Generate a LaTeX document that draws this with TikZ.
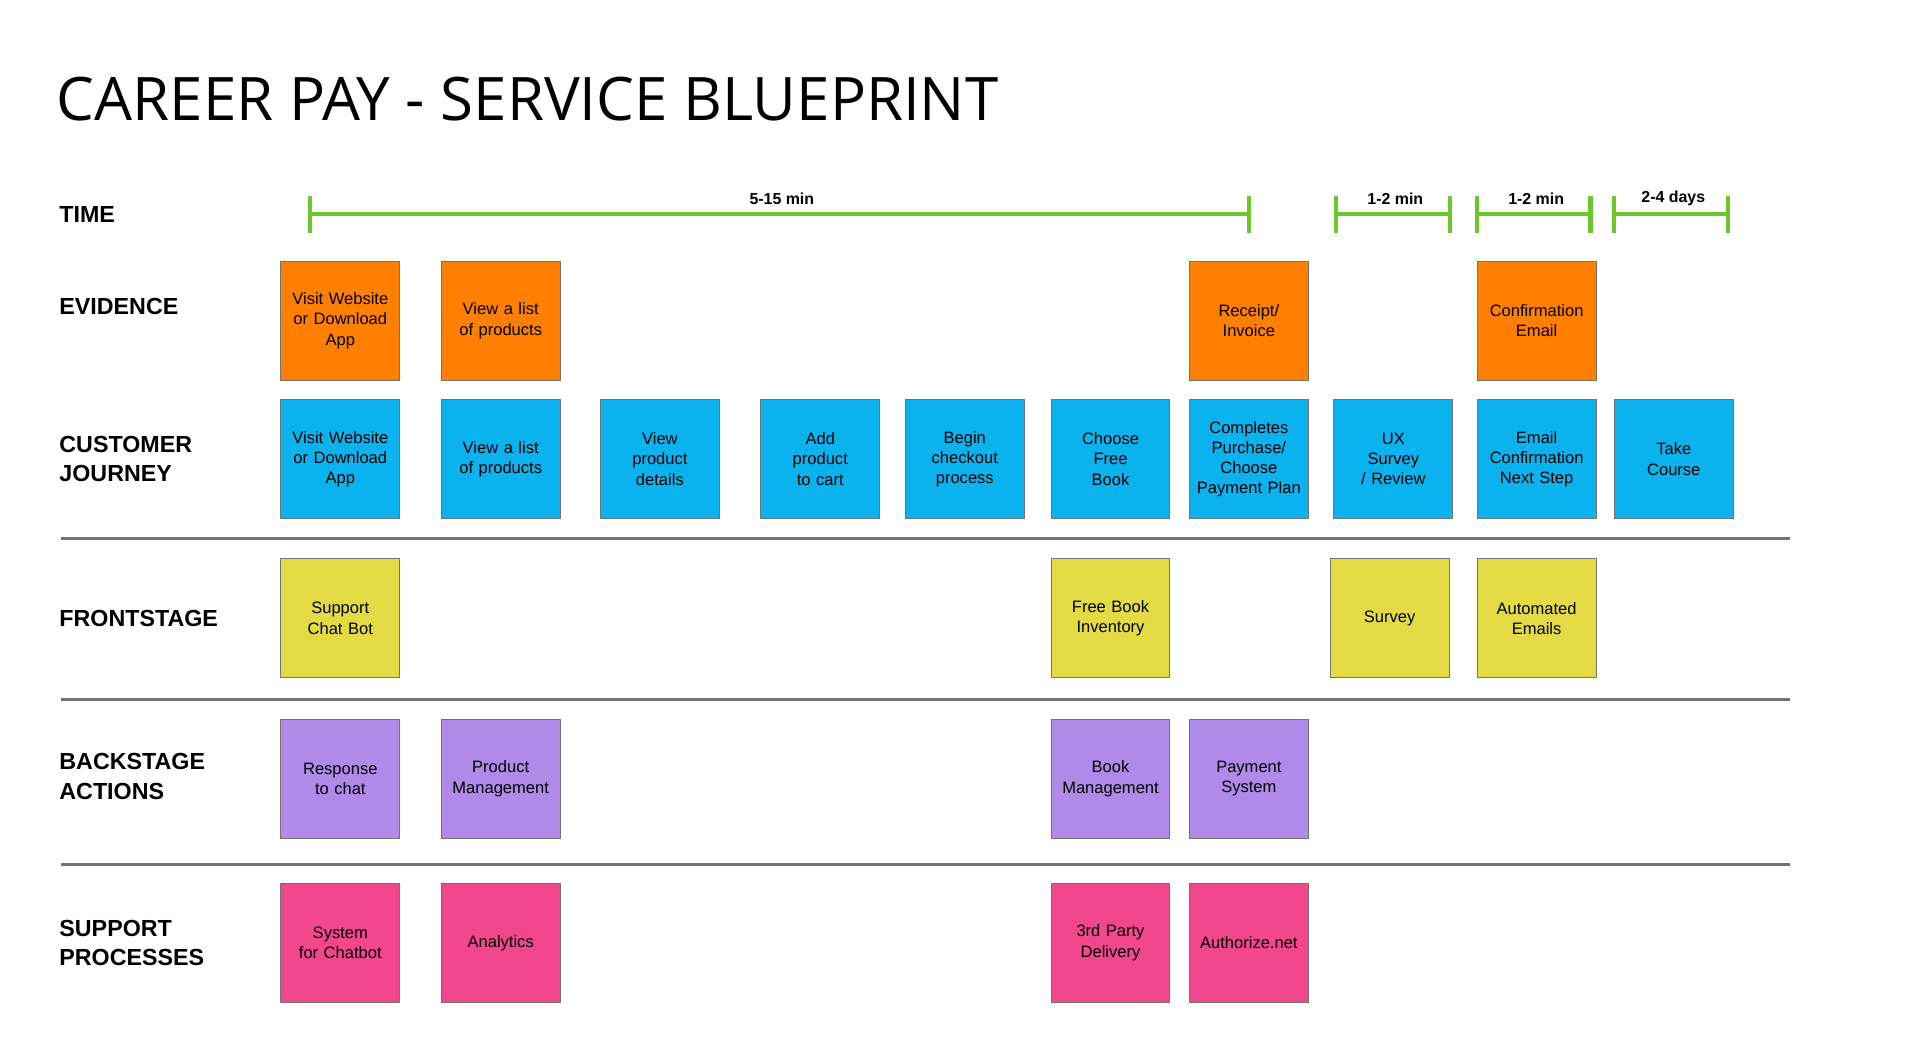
\documentclass[tikz,border=0pt]{standalone}
\usepackage{fontspec}
\setmainfont{Liberation Sans}
\newfontfamily\titlefont{Open Sans}
\definecolor{ora}{HTML}{FF7F00}
\definecolor{blu}{HTML}{0AB2EE}
\definecolor{yel}{HTML}{E4DA44}
\definecolor{pur}{HTML}{B08AE8}
\definecolor{pnk}{HTML}{F2478C}
\definecolor{grn}{HTML}{6CC72A}
\begin{document}
\begin{tikzpicture}[x=1pt,y=-1pt,
 box/.style={draw=black!55,line width=0.8pt,minimum width=97pt,minimum height=97pt,inner sep=0pt,anchor=north west,align=center,font=\fontsize{13.5}{16.5}\selectfont,text width=92pt},
 lab/.style={anchor=west,align=left,font=\fontsize{19}{24}\selectfont\bfseries},
 sep/.style={draw=black!55,line width=2.2pt},
 bar/.style={draw=grn,line width=3.5pt},
 tl/.style={font=\fontsize{13}{15}\selectfont\bfseries}]
\useasboundingbox (0,0) rectangle (1568,861.6);
\node[anchor=west,font=\titlefont\fontsize{49}{53}\selectfont] (title) at (43,81) {CAREER PAY - SERVICE BLUEPRINT};
\node[lab] (lt) at (45,175) {TIME};
\node[lab] (le) at (45,250) {EVIDENCE};
\node[lab] (lc) at (45,375) {CUSTOMER\\JOURNEY};
\node[lab] (lf) at (45,505) {FRONTSTAGE};
\node[lab] (lb) at (45,634) {BACKSTAGE\\ACTIONS};
\node[lab] (ls) at (45,770) {SUPPORT\\PROCESSES};
% time bars
\foreach \a/\b/\t/\n in {253/1020/5-15 min/t1,1091/1184/1-2 min/t2,1206/1299/1-2 min/t3,1318/1411/2-4 days/t4}{
 \coordinate (\n a) at (\a,175); \coordinate (\n b) at (\b,175);
 \draw[bar] (\n a) -- (\n b);
 \draw[bar] (\a,160) -- (\a,190);
 \draw[bar] (\b,160) -- (\b,190);
 \node[tl] (\n l) at ({(\a+\b)/2+2},162) {\t};
}
% separators
\coordinate (s1a) at (50,440); \coordinate (s1b) at (1462,440);
\coordinate (s2a) at (50,571); \coordinate (s2b) at (1462,571);
\coordinate (s3a) at (50,706); \coordinate (s3b) at (1462,706);
\draw[sep] (s1a)--(s1b); \draw[sep] (s2a)--(s2b); \draw[sep] (s3a)--(s3b);
% evidence
\node[box,fill=ora] (e1) at (229,213) {Visit Website\\or Download\\App};
\node[box,fill=ora] (e2) at (360,213) {View a list\\of products};
\node[box,fill=ora] (e3) at (971,213) {Receipt/\\Invoice};
\node[box,fill=ora] (e4) at (1206,213) {Confirmation\\Email};
% journey
\node[box,fill=blu] (c1) at (229,326) {Visit Website\\or Download\\App};
\node[box,fill=blu] (c2) at (360,326) {View a list\\of products};
\node[box,fill=blu] (c3) at (490,326) {View\\product\\details};
\node[box,fill=blu] (c4) at (621,326) {Add\\product\\to cart};
\node[box,fill=blu] (c5) at (739,326) {Begin\\checkout\\process};
\node[box,fill=blu] (c6) at (858,326) {Choose\\Free\\Book};
\node[box,fill=blu] (c7) at (971,326) {Completes\\Purchase/\\Choose\\Payment Plan};
\node[box,fill=blu] (c8) at (1089,326) {UX\\Survey\\/ Review};
\node[box,fill=blu] (c9) at (1206,326) {Email\\Confirmation\\Next Step};
\node[box,fill=blu] (c10) at (1318,326) {Take\\Course\\[1.5em]};
% frontstage
\node[box,fill=yel] (f1) at (229,456) {Support\\Chat Bot};
\node[box,fill=yel] (f2) at (858,456) {Free Book\\Inventory\\[0.4em]};
\node[box,fill=yel] (f3) at (1086,456) {Survey};
\node[box,fill=yel] (f4) at (1206,456) {Automated\\Emails};
% backstage
\node[box,fill=pur] (b1) at (229,587) {Response\\to chat\\[1.5em]};
\node[box,fill=pur] (b2) at (360,587) {Product\\Management\\[1.3em]};
\node[box,fill=pur] (b3) at (858,587) {Book\\Management\\[0.4em]};
\node[box,fill=pur] (b4) at (971,587) {Payment\\System\\[-0.2em]};
% support
\node[box,fill=pnk] (p1) at (229,721) {System\\for Chatbot\\[1.2em]};
\node[box,fill=pnk] (p2) at (360,721) {Analytics\\[0.8em]};
\node[box,fill=pnk] (p3) at (858,721) {3rd Party\\Delivery\\[0.3em]};
\node[box,fill=pnk] (p4) at (971,721) {Authorize.net};
\end{tikzpicture}
\end{document}
